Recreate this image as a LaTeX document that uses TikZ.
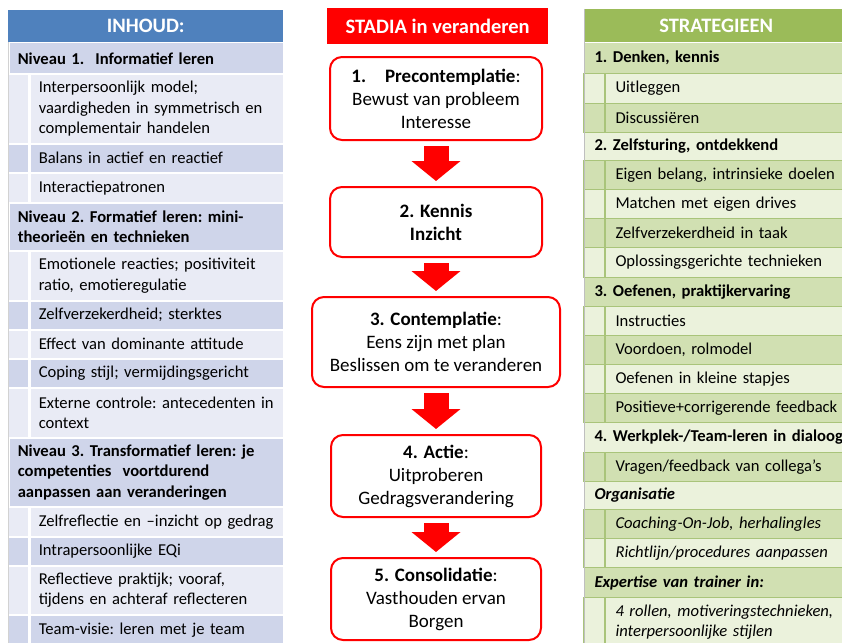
\documentclass[tikz,border=0pt]{standalone}
\usepackage{fontspec}
\setmainfont{Carlito}
\usetikzlibrary{arrows.meta}

\definecolor{blauw}{HTML}{4F81BD}
\definecolor{blauwdonker}{HTML}{CFD5EA}
\definecolor{blauwlicht}{HTML}{E9EBF5}
\definecolor{groen}{HTML}{9BBB59}
\definecolor{groendonker}{HTML}{D1E0B2}
\definecolor{groenlicht}{HTML}{EBF2DC}
\definecolor{groenlijn}{HTML}{A9C47A}
\definecolor{rood}{HTML}{FF0000}

\newcommand{\rijfont}{\fontsize{16.6}{20.5}\selectfont\frenchspacing\hyphenpenalty=10000\exhyphenpenalty=10000}
\newcommand{\stapfont}{\fontsize{19}{23}\selectfont}

\begin{document}
\begin{tikzpicture}[x=1pt,y=-1pt,
  kop/.style={fill=#1,text=white,font=\fontsize{20.5}{24}\selectfont\bfseries,anchor=north west,inner sep=0pt},
  lkop/.style={fill=#1,draw=white,line width=1.5pt,font=\rijfont\bfseries,align=left,anchor=north west,inner xsep=9pt,inner ysep=0pt,text width=257pt},
  lsub/.style={fill=#1,draw=white,line width=1.5pt,font=\rijfont,align=left,anchor=north west,inner xsep=9pt,inner ysep=0pt,text width=236pt},
  lind/.style={fill=#1,draw=white,line width=1.5pt,anchor=north east,minimum width=21pt,inner sep=0pt},
  rkop/.style={fill=#1,draw=groenlijn,line width=1pt,font=\rijfont\bfseries,align=left,anchor=north west,inner xsep=10pt,inner ysep=0pt,text width=254pt},
  rsub/.style={fill=#1,draw=groenlijn,line width=1pt,font=\rijfont,align=left,anchor=north west,inner xsep=10pt,inner ysep=0pt,text width=233pt},
  rind/.style={fill=#1,draw=groenlijn,line width=1pt,anchor=north east,minimum width=21pt,inner sep=0pt},
  stap/.style={draw=rood,line width=2pt,rounded corners=12pt,fill=white,align=center,font=\stapfont},
  pijl/.style={draw=rood,line width=25pt,-{Triangle[width=48pt,length=20pt]},shorten <=5pt,shorten >=5pt}]

\useasboundingbox (0,0) rectangle (842,642);

% INHOUD
\node[kop=blauw,minimum width=275pt,minimum height=32pt] (inhoud) at (8,10) {INHOUD:};
\node[lkop=blauwdonker,minimum height=31pt] (niv1) at (8,42) {Niveau 1.\ \ Informatief leren};
\node[lsub=blauwlicht,minimum height=70pt] (model) at (29,73) {Interpersoonlijk model;\\vaardigheden in symmetrisch en\\complementair handelen};
\node[lind=blauwlicht,minimum height=70pt] at (model.north west) {};
\node[lsub=blauwdonker,minimum height=29pt] (balans) at (29,143) {Balans in actief en reactief};
\node[lind=blauwdonker,minimum height=29pt] at (balans.north west) {};
\node[lsub=blauwlicht,minimum height=30pt] (patronen) at (29,172) {Interactiepatronen};
\node[lind=blauwlicht,minimum height=30pt] at (patronen.north west) {};
\node[lkop=blauwdonker,minimum height=48pt] (niv2) at (8,202) {Niveau 2. Formatief leren: mini-\\theorieën en technieken};
\node[lsub=blauwlicht,minimum height=50pt] (emotie) at (29,250) {Emotionele reacties; positiviteit\\ratio, emotieregulatie};
\node[lind=blauwlicht,minimum height=50pt] at (emotie.north west) {};
\node[lsub=blauwdonker,minimum height=29pt] (sterktes) at (29,300) {Zelfverzekerdheid; sterktes};
\node[lind=blauwdonker,minimum height=29pt] at (sterktes.north west) {};
\node[lsub=blauwlicht,minimum height=29pt] (attitude) at (29,329) {Effect van dominante attitude};
\node[lind=blauwlicht,minimum height=29pt] at (attitude.north west) {};
\node[lsub=blauwdonker,minimum height=29pt] (coping) at (29,358) {Coping stijl; vermijdingsgericht};
\node[lind=blauwdonker,minimum height=29pt] at (coping.north west) {};
\node[lsub=blauwlicht,minimum height=50pt] (extern) at (29,387) {Externe controle: antecedenten in\\context};
\node[lind=blauwlicht,minimum height=50pt] at (extern.north west) {};
\node[lkop=blauwdonker,minimum height=69pt] (niv3) at (8,437) {Niveau 3. Transformatief leren: je\\competenties\ \ voortdurend\\aanpassen aan veranderingen};
\node[lsub=blauwlicht,minimum height=30pt] (reflectie) at (29,506) {Zelfreflectie en –inzicht op gedrag};
\node[lind=blauwlicht,minimum height=30pt] at (reflectie.north west) {};
\node[lsub=blauwdonker,minimum height=29pt] (eqi) at (29,536) {Intrapersoonlijke EQi};
\node[lind=blauwdonker,minimum height=29pt] at (eqi.north west) {};
\node[lsub=blauwlicht,minimum height=49pt] (praktijk) at (29,565) {Reflectieve praktijk; vooraf,\\tijdens en achteraf reflecteren};
\node[lind=blauwlicht,minimum height=49pt] at (praktijk.north west) {};
\node[lsub=blauwdonker,minimum height=30pt] (team) at (29,614) {Team-visie: leren met je team};
\node[lind=blauwdonker,minimum height=30pt] at (team.north west) {};

% STADIA
\node[kop=rood,minimum width=221pt,minimum height=36pt] (stadia) at (327,8) {STADIA in veranderen};
\node[stap,minimum width=212pt,minimum height=83pt] (pre) at (436,98.5) {\textbf{1.\hspace{1em}Precontemplatie}:\\Bewust van probleem\\Interesse};
\node[stap,minimum width=212pt,minimum height=70pt] (kennis) at (436,222) {\textbf{2. Kennis}\\\textbf{Inzicht}};
\node[stap,minimum width=248pt,minimum height=90pt] (contemplatie) at (436,342) {\textbf{3. Contemplatie}:\\Eens zijn met plan\\Beslissen om te veranderen};
\node[stap,minimum width=210pt,minimum height=82pt] (actie) at (436,476) {\textbf{4. Actie}:\\Uitproberen\\Gedragsverandering};
\node[stap,minimum width=210pt,minimum height=82pt] (consolidatie) at (436,599) {\textbf{5. Consolidatie}:\\Vasthouden ervan\\Borgen};

\path[pijl] (pre) -- (kennis);
\path[pijl] (kennis) -- (contemplatie);
\path[pijl] (contemplatie) -- (actie);
\path[pijl] (actie) -- (consolidatie);

% STRATEGIEEN
\node[kop=groen,minimum width=264pt,minimum height=33pt] (strat) at (584,9) {STRATEGIEEN};
\node[rkop=groendonker,minimum height=31pt] (denken) at (584,42) {1. Denken, kennis};
\node[rsub=groenlicht,minimum height=30pt] (uitleg) at (605,73) {Uitleggen};
\node[rind=groenlicht,minimum height=30pt] at (uitleg.north west) {};
\node[rsub=groendonker,minimum height=29pt] (discus) at (605,103) {Discussiëren};
\node[rind=groendonker,minimum height=29pt] at (discus.north west) {};
\node[rkop=groenlicht,minimum height=28pt] (sturing) at (584,132) {2. Zelfsturing, ontdekkend};
\node[rsub=groendonker,minimum height=29pt] (belang) at (605,160) {Eigen belang, intrinsieke doelen};
\node[rind=groendonker,minimum height=29pt] at (belang.north west) {};
\node[rsub=groenlicht,minimum height=29pt] (drives) at (605,189) {Matchen met eigen drives};
\node[rind=groenlicht,minimum height=29pt] at (drives.north west) {};
\node[rsub=groendonker,minimum height=29pt] (taak) at (605,218) {Zelfverzekerdheid in taak};
\node[rind=groendonker,minimum height=29pt] at (taak.north west) {};
\node[rsub=groenlicht,minimum height=30pt] (oplos) at (605,247) {Oplossingsgerichte technieken};
\node[rind=groenlicht,minimum height=30pt] at (oplos.north west) {};
\node[rkop=groendonker,minimum height=29pt] (oefenen) at (584,277) {3. Oefenen, praktijkervaring};
\node[rsub=groenlicht,minimum height=29pt] (instr) at (605,306) {Instructies};
\node[rind=groenlicht,minimum height=29pt] at (instr.north west) {};
\node[rsub=groendonker,minimum height=29pt] (voordoen) at (605,335) {Voordoen, rolmodel};
\node[rind=groendonker,minimum height=29pt] at (voordoen.north west) {};
\node[rsub=groenlicht,minimum height=29pt] (stapjes) at (605,364) {Oefenen in kleine stapjes};
\node[rind=groenlicht,minimum height=29pt] at (stapjes.north west) {};
\node[rsub=groendonker,minimum height=29pt] (feedback) at (605,393) {Positieve+corrigerende feedback};
\node[rind=groendonker,minimum height=29pt] at (feedback.north west) {};
\node[rkop=groenlicht,minimum height=30pt] (werkplek) at (584,422) {4. Werkplek-/Team-leren in dialoog};
\node[rsub=groendonker,minimum height=29pt] (collega) at (605,452) {Vragen/feedback van collega’s};
\node[rind=groendonker,minimum height=29pt] at (collega.north west) {};
\node[rkop=groenlicht,minimum height=28pt,font=\rijfont\bfseries\itshape] (org) at (584,481) {Organisatie};
\node[rsub=groendonker,minimum height=29pt,font=\rijfont\itshape] (coaching) at (605,509) {Coaching-On-Job, herhalingles};
\node[rind=groendonker,minimum height=29pt] at (coaching.north west) {};
\node[rsub=groenlicht,minimum height=29pt,font=\rijfont\itshape] (richtlijn) at (605,538) {Richtlijn/procedures aanpassen};
\node[rind=groenlicht,minimum height=29pt] at (richtlijn.north west) {};
\node[rkop=groendonker,minimum height=30pt,font=\rijfont\bfseries\itshape] (expertise) at (584,567) {Expertise van trainer in:};
\node[rsub=groenlicht,minimum height=49pt,font=\rijfont\itshape] (rollen) at (605,597) {4 rollen, motiveringstechnieken,\\interpersoonlijke stijlen};
\node[rind=groenlicht,minimum height=49pt] at (rollen.north west) {};

\draw[white,line width=1.5pt] (strat.south west) -- (strat.south east);
\draw[gray!50,line width=1pt] (strat.north west) -- (strat.north west |- rollen.south);
\draw[gray!35,line width=1pt] (inhoud.south west) -- (inhoud.south west |- team.south);

\end{tikzpicture}
\end{document}
